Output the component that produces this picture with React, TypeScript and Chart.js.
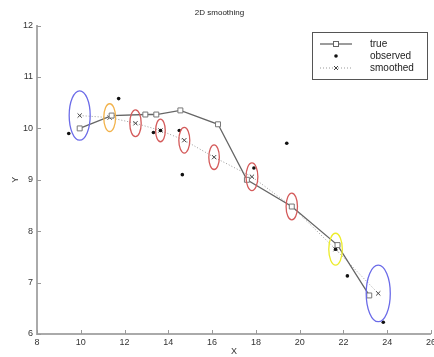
import React, { useEffect, useRef } from "react";
import { Chart, registerables } from "chart.js";

Chart.register(...registerables);

// ---- data ----
const trueX = [9.95, 11.41, 12.95, 13.45, 14.55, 16.27, 17.59, 19.64, 21.73, 23.18];
const trueY = [10.0, 10.25, 10.27, 10.27, 10.35, 10.08, 9.0, 8.48, 7.73, 6.75];

const observedX = [9.45, 11.73, 13.32, 13.64, 14.5, 14.64, 17.91, 19.41, 19.64, 21.64, 22.18, 23.82];
const observedY = [9.9, 10.58, 9.92, 9.96, 9.96, 9.1, 9.23, 9.71, 8.48, 7.65, 7.13, 6.23];

const smoothedX = [9.95, 11.32, 12.5, 13.64, 14.73, 16.09, 17.82, 19.64, 21.64, 23.59];
const smoothedY = [10.25, 10.21, 10.1, 9.96, 9.77, 9.44, 9.06, 8.48, 7.65, 6.79];

// ellipse radius (data units) around each smoothed estimate
const ellipseR = [0.48, 0.27, 0.26, 0.22, 0.25, 0.24, 0.27, 0.26, 0.31, 0.55];
const ellipseColors = [
  "#6b6be8", "#f2b24a", "#d45a5a", "#d45a5a", "#d45a5a",
  "#d45a5a", "#d45a5a", "#d45a5a", "#ecec2a", "#6b6be8",
];

const legendLabels = ["true", "observed", "smoothed"];
const titleText = "2D smoothing";
const xTitle = "X";
const yTitle = "Y";

const FONT = "'Liberation Sans', Arial, sans-serif";

const pts = (xs: number[], ys: number[]) => xs.map((x, i) => ({ x, y: ys[i] }));

const ellipsePlugin = {
  id: "ellipses",
  afterDatasetsDraw(chart: any) {
    const { ctx } = chart;
    const xs = chart.scales.x;
    const ys = chart.scales.y;
    ctx.save();
    ctx.lineWidth = 1.3;
    smoothedX.forEach((cx, i) => {
      const cy = smoothedY[i];
      const px = xs.getPixelForValue(cx);
      const py = ys.getPixelForValue(cy);
      const rx = Math.abs(xs.getPixelForValue(cx + ellipseR[i]) - px);
      const ry = Math.abs(ys.getPixelForValue(cy + ellipseR[i]) - py);
      ctx.beginPath();
      ctx.strokeStyle = ellipseColors[i];
      ctx.ellipse(px, py, rx, ry, 0, 0, Math.PI * 2);
      ctx.stroke();
    });
    ctx.restore();
  },
};

const innerTicksPlugin = {
  id: "innerTicks",
  afterDraw(chart: any) {
    const { ctx, chartArea } = chart;
    const xs = chart.scales.x;
    const ys = chart.scales.y;
    ctx.save();
    ctx.strokeStyle = "#999";
    ctx.lineWidth = 1;
    xs.ticks.forEach((t: any) => {
      const p = Math.round(xs.getPixelForValue(t.value)) + 0.5;
      ctx.beginPath();
      ctx.moveTo(p, chartArea.bottom);
      ctx.lineTo(p, chartArea.bottom - 4);
      ctx.stroke();
    });
    ys.ticks.forEach((t: any) => {
      const p = Math.round(ys.getPixelForValue(t.value)) + 0.5;
      ctx.beginPath();
      ctx.moveTo(chartArea.left, p);
      ctx.lineTo(chartArea.left + 4, p);
      ctx.stroke();
    });
    ctx.restore();
  },
};

const legendPlugin = {
  id: "matLegend",
  afterDraw(chart: any) {
    const { ctx } = chart;
    const bx = 312.5, by = 32.5, bw = 115, bh = 47;
    ctx.save();
    ctx.fillStyle = "#ffffff";
    ctx.fillRect(bx, by, bw, bh);
    ctx.strokeStyle = "#555";
    ctx.lineWidth = 1;
    ctx.strokeRect(bx, by, bw, bh);
    const rows = [44, 56, 68];
    const lx0 = 320, lx1 = 352, mx = 336;
    // true
    ctx.strokeStyle = "#666";
    ctx.lineWidth = 1.3;
    ctx.setLineDash([]);
    ctx.beginPath();
    ctx.moveTo(lx0, rows[0]);
    ctx.lineTo(lx1, rows[0]);
    ctx.stroke();
    ctx.fillStyle = "#fff";
    ctx.fillRect(mx - 2.5, rows[0] - 2.5, 5, 5);
    ctx.lineWidth = 1;
    ctx.strokeRect(mx - 2.5, rows[0] - 2.5, 5, 5);
    // observed
    ctx.fillStyle = "#111";
    ctx.beginPath();
    ctx.arc(mx, rows[1], 1.8, 0, Math.PI * 2);
    ctx.fill();
    // smoothed
    ctx.strokeStyle = "#999";
    ctx.setLineDash([1, 2]);
    ctx.beginPath();
    ctx.moveTo(lx0, rows[2]);
    ctx.lineTo(lx1, rows[2]);
    ctx.stroke();
    ctx.setLineDash([]);
    ctx.strokeStyle = "#444";
    ctx.beginPath();
    ctx.moveTo(mx - 2, rows[2] - 2);
    ctx.lineTo(mx + 2, rows[2] + 2);
    ctx.moveTo(mx + 2, rows[2] - 2);
    ctx.lineTo(mx - 2, rows[2] + 2);
    ctx.stroke();
    // texts
    ctx.fillStyle = "#222";
    ctx.font = `10px ${FONT}`;
    ctx.textBaseline = "middle";
    ctx.textAlign = "left";
    legendLabels.forEach((l, i) => ctx.fillText(l, 370, rows[i]));
    ctx.restore();
  },
};

export default function App() {
  const ref = useRef<HTMLCanvasElement>(null);
  useEffect(() => {
    if (!ref.current) return;
    const chart = new Chart(ref.current, {
      type: "scatter",
      data: {
        datasets: [
          {
            label: legendLabels[0],
            data: pts(trueX, trueY),
            showLine: true,
            borderColor: "#666",
            borderWidth: 1.3,
            pointStyle: "rect",
            pointRadius: 3.5,
            pointBackgroundColor: "#fff",
            pointBorderColor: "#777",
            pointBorderWidth: 1,
          },
          {
            label: legendLabels[1],
            data: pts(observedX, observedY),
            showLine: false,
            pointStyle: "circle",
            pointRadius: 1.8,
            pointBackgroundColor: "#111",
            pointBorderColor: "#111",
            pointBorderWidth: 0,
          },
          {
            label: legendLabels[2],
            data: pts(smoothedX, smoothedY),
            showLine: true,
            borderColor: "#999",
            borderWidth: 1,
            borderDash: [1, 2],
            pointStyle: "crossRot",
            pointRadius: 3,
            pointBorderColor: "#444",
            pointBorderWidth: 1,
          },
        ],
      },
      options: {
        responsive: false,
        animation: false,
        layout: { padding: 0 },
        plugins: {
          legend: { display: false },
          tooltip: { enabled: false },
          title: {
            display: true,
            text: titleText,
            color: "#222",
            font: { family: FONT, size: 8, weight: "normal" },
            padding: { top: 8, bottom: 8 },
          },
        },
        scales: {
          x: {
            type: "linear",
            min: 8,
            max: 26,
            ticks: { stepSize: 2, color: "#333", font: { family: FONT, size: 9 }, padding: 3, maxRotation: 0 },
            grid: { display: false, drawTicks: false, tickLength: 0 },
            border: { display: true, color: "#aaa", width: 2 },
            title: {
              display: true,
              text: xTitle,
              color: "#333",
              font: { family: FONT, size: 9 },
              padding: 0,
            },
            afterFit: (s: any) => {
              s.height = 23;
            },
          },
          y: {
            type: "linear",
            min: 6,
            max: 12,
            ticks: { stepSize: 1, color: "#333", font: { family: FONT, size: 9 }, padding: 4 },
            grid: { display: false, drawTicks: false, tickLength: 0 },
            border: { display: true, color: "#aaa", width: 2 },
            title: {
              display: true,
              text: yTitle,
              color: "#333",
              font: { family: FONT, size: 9 },
              padding: { top: 10, bottom: 0 },
            },
            afterFit: (s: any) => {
              s.width = 37;
            },
          },
        },
      },
      plugins: [ellipsePlugin, innerTicksPlugin, legendPlugin],
    } as any);
    return () => chart.destroy();
  }, []);
  return (
    <div style={{ position: "fixed", left: 0, top: 0, width: 434, height: 357, overflow: "hidden", background: "#fff" }}>
      <canvas ref={ref} width={439} height={357} style={{ display: "block" }} />
    </div>
  );
}
